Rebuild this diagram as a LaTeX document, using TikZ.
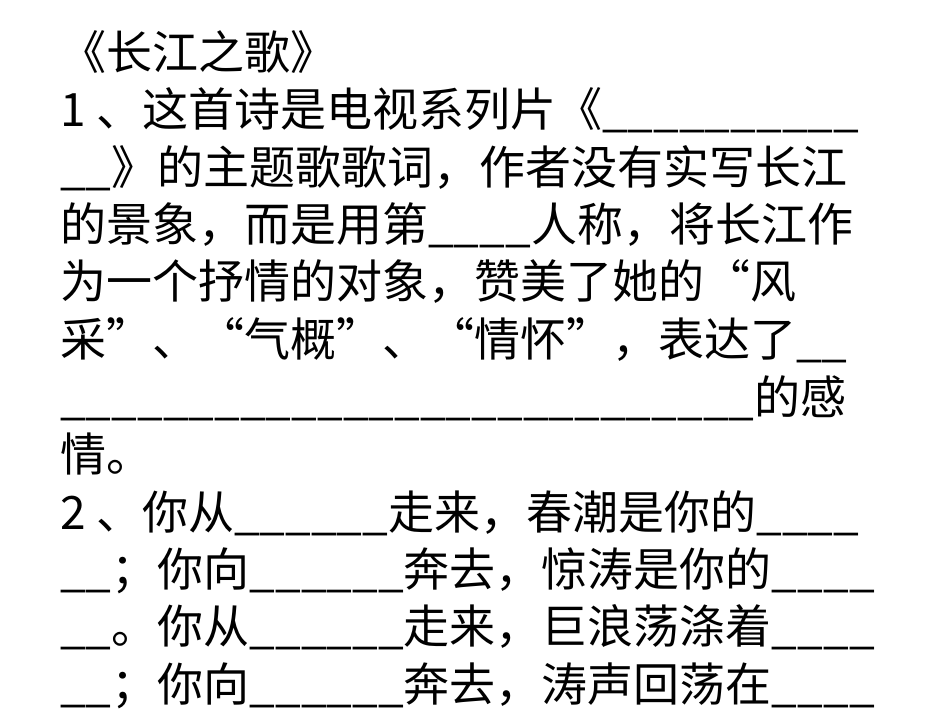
\documentclass[tikz,border=0pt]{standalone}
\usepackage{fontspec}
\newfontfamily\cjk{Noto Sans CJK SC}
\begin{document}
\begin{tikzpicture}[x=1pt,y=1pt,ln/.style={anchor=base west,inner sep=0pt,font=\cjk\fontsize{46}{46}\selectfont}]
\fill[white] (0,0) rectangle (950,713);
\useasboundingbox (0,0) rectangle (950,713);
\node[ln] (l1) at (60,643) {《长江之歌》};
\node[ln] (l2) at (60,586) {1 、这首诗是电视系列片《\_\_\_\_\_\_\_\_\_\_};
\node[ln] (l3) at (60,528) {\_\_》的主题歌歌词，作者没有实写长江};
\node[ln] (l4) at (60,471) {的景象，而是用第\_\_\_\_人称，将长江作};
\node[ln] (l5) at (60,414) {为一个抒情的对象，赞美了她的“风};
\node[ln] (l6) at (60,356) {采”、“气概”、“情怀”，表达了\_\_};
\node[ln] (l7) at (60,299) {\_\_\_\_\_\_\_\_\_\_\_\_\_\_\_\_\_\_\_\_\_\_\_\_\_\_\_的感};
\node[ln] (l8) at (60,242) {情。};
\node[ln] (l9) at (60,184) {2 、你从\_\_\_\_\_\_走来，春潮是你的\_\_\_\_};
\node[ln] (l10) at (60,127) {\_\_；你向\_\_\_\_\_\_奔去，惊涛是你的\_\_\_\_};
\node[ln] (l11) at (60,70) {\_\_。你从\_\_\_\_\_\_走来，巨浪荡涤着\_\_\_\_};
\node[ln] (l12) at (60,12) {\_\_；你向\_\_\_\_\_\_奔去，涛声回荡在\_\_\_\_};
\end{tikzpicture}
\end{document}
